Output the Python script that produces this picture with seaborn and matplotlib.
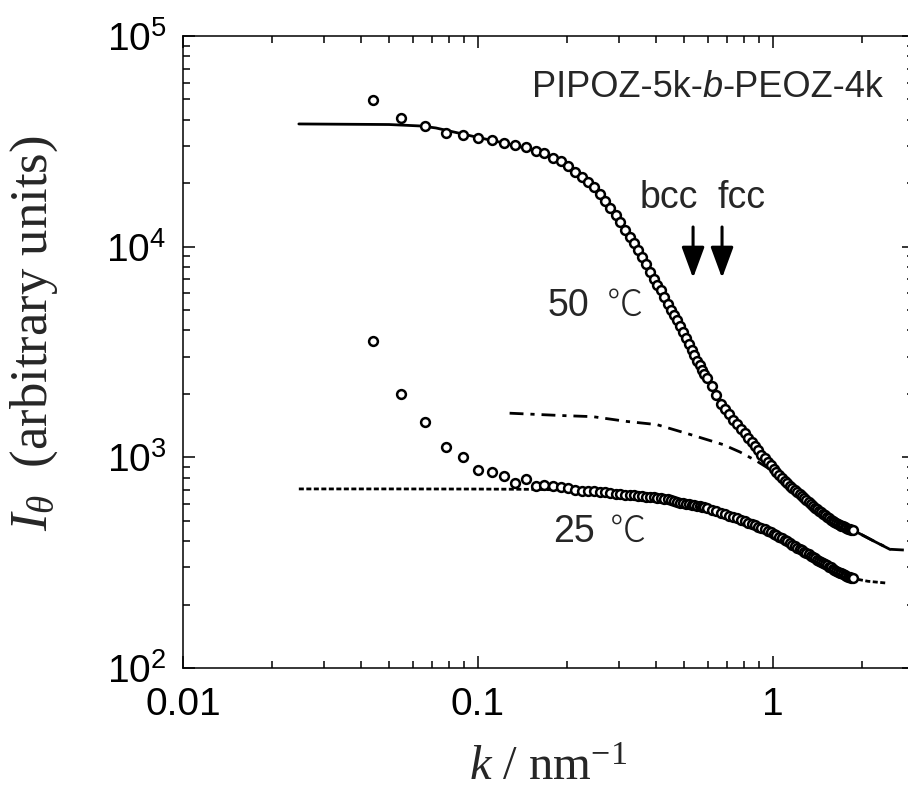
import math
import matplotlib
matplotlib.use("Agg")
import matplotlib.pyplot as plt
import matplotlib.ticker as mticker
from matplotlib.offsetbox import TextArea, HPacker, AnnotationBbox
import seaborn as sns

sns.set_style("ticks")
plt.rcParams["font.family"] = ["Liberation Sans", "DejaVu Sans"]
plt.rcParams["mathtext.fontset"] = "custom"
plt.rcParams["mathtext.rm"] = "Liberation Serif"
plt.rcParams["mathtext.it"] = "Liberation Serif:italic"
plt.rcParams["mathtext.default"] = "regular"

# scattering vector k (nm^-1), shared by both temperatures
k = [0.044, 0.055, 0.066, 0.078, 0.089, 0.100, 0.112, 0.123, 0.134, 0.146,
     0.157, 0.168, 0.180, 0.191, 0.202, 0.214, 0.225, 0.236, 0.247, 0.259,
     0.270, 0.281, 0.293, 0.304, 0.315, 0.327, 0.338, 0.349, 0.360, 0.372,
     0.383, 0.394, 0.406, 0.417, 0.428, 0.440, 0.451, 0.462, 0.473, 0.485,
     0.496, 0.507, 0.519, 0.530, 0.541, 0.553, 0.564, 0.575, 0.586, 0.598,
     0.620, 0.643, 0.666, 0.688, 0.711, 0.733, 0.756, 0.779, 0.801, 0.824,
     0.846, 0.869, 0.892, 0.914, 0.937, 0.959, 0.982, 1.005, 1.027, 1.050,
     1.072, 1.095, 1.118, 1.140, 1.163, 1.185, 1.208, 1.231, 1.253, 1.276,
     1.298, 1.321, 1.344, 1.366, 1.389, 1.411, 1.434, 1.457, 1.479, 1.502,
     1.524, 1.547, 1.570, 1.592, 1.615, 1.637, 1.660, 1.683, 1.705, 1.728,
     1.750, 1.773, 1.796, 1.818, 1.841, 1.863]

I_50 = [49800, 40800, 37400, 34700, 33800, 32800, 32000, 31000, 30300, 29600,
        28400, 27800, 26500, 25400, 24100, 22700, 21500, 20200, 19100, 17700,
        16500, 15300, 14100, 13050, 12000, 11100, 10400, 9600, 8950, 8250,
        7600, 7000, 6570, 6220, 5800, 5340, 5020, 4740, 4480, 4190,
        3940, 3680, 3440, 3230, 3050, 2880, 2740, 2600, 2490, 2380,
        2180, 1970, 1800, 1700, 1600, 1510, 1440, 1360, 1300, 1240,
        1180, 1130, 1080, 1030, 990, 955, 920, 885, 850, 820,
        800, 775, 755, 735, 715, 698, 682, 667, 652, 638,
        625, 612, 599, 586, 576, 566, 557, 548, 539, 530,
        522, 514, 506, 500, 494, 488, 483, 478, 474, 470,
        466, 462, 458, 455, 453, 451]

I_25 = [3550, 1990, 1465, 1115, 1000, 868, 849, 813, 753, 787,
        729, 737, 728, 722, 712, 702, 692, 690, 689, 685,
        681, 676, 672, 669, 666, 663, 660, 657, 654, 651,
        648, 645, 642, 638, 635, 631, 626, 620, 615, 609,
        604, 601, 598, 595, 592, 589, 586, 582, 578, 573,
        564, 555, 546, 538, 529, 521, 514, 506, 498, 490,
        482, 475, 469, 463, 456, 449, 441, 434, 427, 420,
        413, 406, 399, 392, 385, 379, 373, 368, 362, 357,
        352, 346, 341, 336, 331, 327, 323, 319, 315, 311,
        307, 303, 300, 296, 292, 289, 286, 283, 281, 278,
        276, 273, 271, 269, 268, 267]

# model curves
k_fit50 = [0.0247, 0.05, 0.064, 0.072, 0.08, 0.1, 0.13, 0.16, 0.2, 0.25, 0.3,
           0.35, 0.4, 0.45, 0.5, 0.55, 0.6, 0.7, 0.8, 0.9, 1.0, 1.2, 1.4,
           1.6, 1.87, 2.2, 2.49]
I_fit50 = [38240, 38000, 37400, 36600, 35400, 33000, 30500, 28300, 24400,
           18700, 13300, 9600, 6800, 5050, 3850, 2950, 2350, 1650, 1300,
           1060, 890, 690, 572, 498, 451, 400, 366]

k_fit25 = [0.0247, 0.05, 0.1, 0.15, 0.2, 0.25, 0.3, 0.35, 0.4, 0.45, 0.5,
           0.6, 0.7, 0.8, 0.9, 1.0, 1.2, 1.4, 1.6, 1.87, 2.1, 2.43]
I_fit25 = [708, 708, 707, 705, 700, 690, 678, 665, 648, 628, 606, 570, 535,
           500, 468, 437, 378, 330, 292, 266, 258, 253]

k_dd = [0.128, 0.19, 0.245, 0.32, 0.404, 0.523, 0.677, 0.773, 0.883, 1.0,
        1.2, 1.4, 1.6, 1.87, 2.2, 2.5, 2.9]
I_dd = [1620, 1580, 1560, 1480, 1430, 1285, 1150, 1060, 958, 860, 690, 572,
        498, 451, 400, 366, 362]

# expected peak positions
peak_k = [0.536, 0.672]
peak_names = ["bcc", "fcc"]

fig = plt.figure(figsize=(9.08, 8.07), dpi=100)
ax = fig.add_axes([183 / 908, 139 / 807, 730.7 / 908, 632 / 807])

sns.lineplot(x=k_fit50, y=I_fit50, ax=ax, color="black", lw=2.0,
             sort=False, estimator=None, zorder=2)
sns.lineplot(x=k_fit25, y=I_fit25, ax=ax, color="black", lw=2.0,
             linestyle=(0, (1.8, 0.9)), sort=False, estimator=None, zorder=2)
sns.lineplot(x=k_dd, y=I_dd, ax=ax, color="black", lw=2.0,
             linestyle=(0, (5, 2.5, 1.5, 2.5)), sort=False, estimator=None,
             zorder=2)

for I in (I_50, I_25):
    sns.scatterplot(x=k, y=I, ax=ax, marker="o", s=40, color="white",
                    edgecolor="black", linewidth=1.8, zorder=3)

ax.set_xscale("log")
ax.set_yscale("log")
ax.set_xlim(0.01, 3)
ax.set_ylim(100, 1e5)

ax.xaxis.set_major_locator(mticker.LogLocator(base=10))
ax.xaxis.set_minor_locator(mticker.LogLocator(base=10, subs=range(2, 10)))
ax.yaxis.set_minor_locator(mticker.LogLocator(base=10, subs=range(2, 10)))
ax.xaxis.set_minor_formatter(mticker.NullFormatter())
ax.yaxis.set_minor_formatter(mticker.NullFormatter())
ax.xaxis.set_major_formatter(mticker.FuncFormatter(lambda v, p: f"{v:g}"))
ax.yaxis.set_major_formatter(
    mticker.FuncFormatter(lambda v, p: r"$\mathregular{10^{%d}}$" % round(math.log10(v))))

ax.tick_params(which="both", direction="in", top=True, right=True,
               width=1.1, colors="black", labelsize=28)
ax.tick_params(which="major", length=8.5)
ax.tick_params(which="minor", length=5)
ax.tick_params(axis="x", pad=14)
ax.tick_params(axis="y", pad=12)
for s in ax.spines.values():
    s.set_linewidth(1.1)
    s.set_color("black")

ax.set_xlabel(r"$\mathit{k}$ / nm$^{-1}$", fontsize=35,
              fontfamily="Liberation Serif", labelpad=16)
ax.set_ylabel(r"$\mathit{I}_{\mathit{\theta}}$  (arbitrary units)", fontsize=38,
              fontfamily="Liberation Serif")
ax.yaxis.set_label_coords(-0.168, 0.53)

# sample label with italic b
parts = [TextArea("PIPOZ-5k-", textprops=dict(fontsize=26)),
         TextArea("b", textprops=dict(fontsize=26, style="italic")),
         TextArea("-PEOZ-4k", textprops=dict(fontsize=26))]
box = HPacker(children=parts, align="baseline", pad=0, sep=0)
ab = AnnotationBbox(box, (0.959, 0.918), xycoords="axes fraction",
                    box_alignment=(1, 0.5), frameon=False)
ax.add_artist(ab)

# temperatures
ax.text(0.1726, 5240, "50", fontsize=27, ha="left", va="center")
ax.text(0.2735, 5240, "\u2103", fontsize=26, ha="left", va="center",
        fontfamily=["Noto Sans CJK JP", "DejaVu Sans"], fontweight="light")
ax.text(0.1795, 443, "25", fontsize=27, ha="left", va="center")
ax.text(0.280, 443, "\u2103", fontsize=26, ha="left", va="center",
        fontfamily=["Noto Sans CJK JP", "DejaVu Sans"], fontweight="light")

# peak arrows
label_k = [0.444, 0.780]
for pk, name, lk in zip(peak_k, peak_names, label_k):
    ax.annotate("", xy=(pk, 7100), xytext=(pk, 12400),
                arrowprops=dict(arrowstyle="-|>,head_length=0.95,head_width=0.35",
                                mutation_scale=20, color="black", lw=2.2,
                                shrinkA=0, shrinkB=0))
    ax.text(lk, 17000, name, fontsize=27, ha="center", va="center")

fig.savefig("out.png", dpi=100)
